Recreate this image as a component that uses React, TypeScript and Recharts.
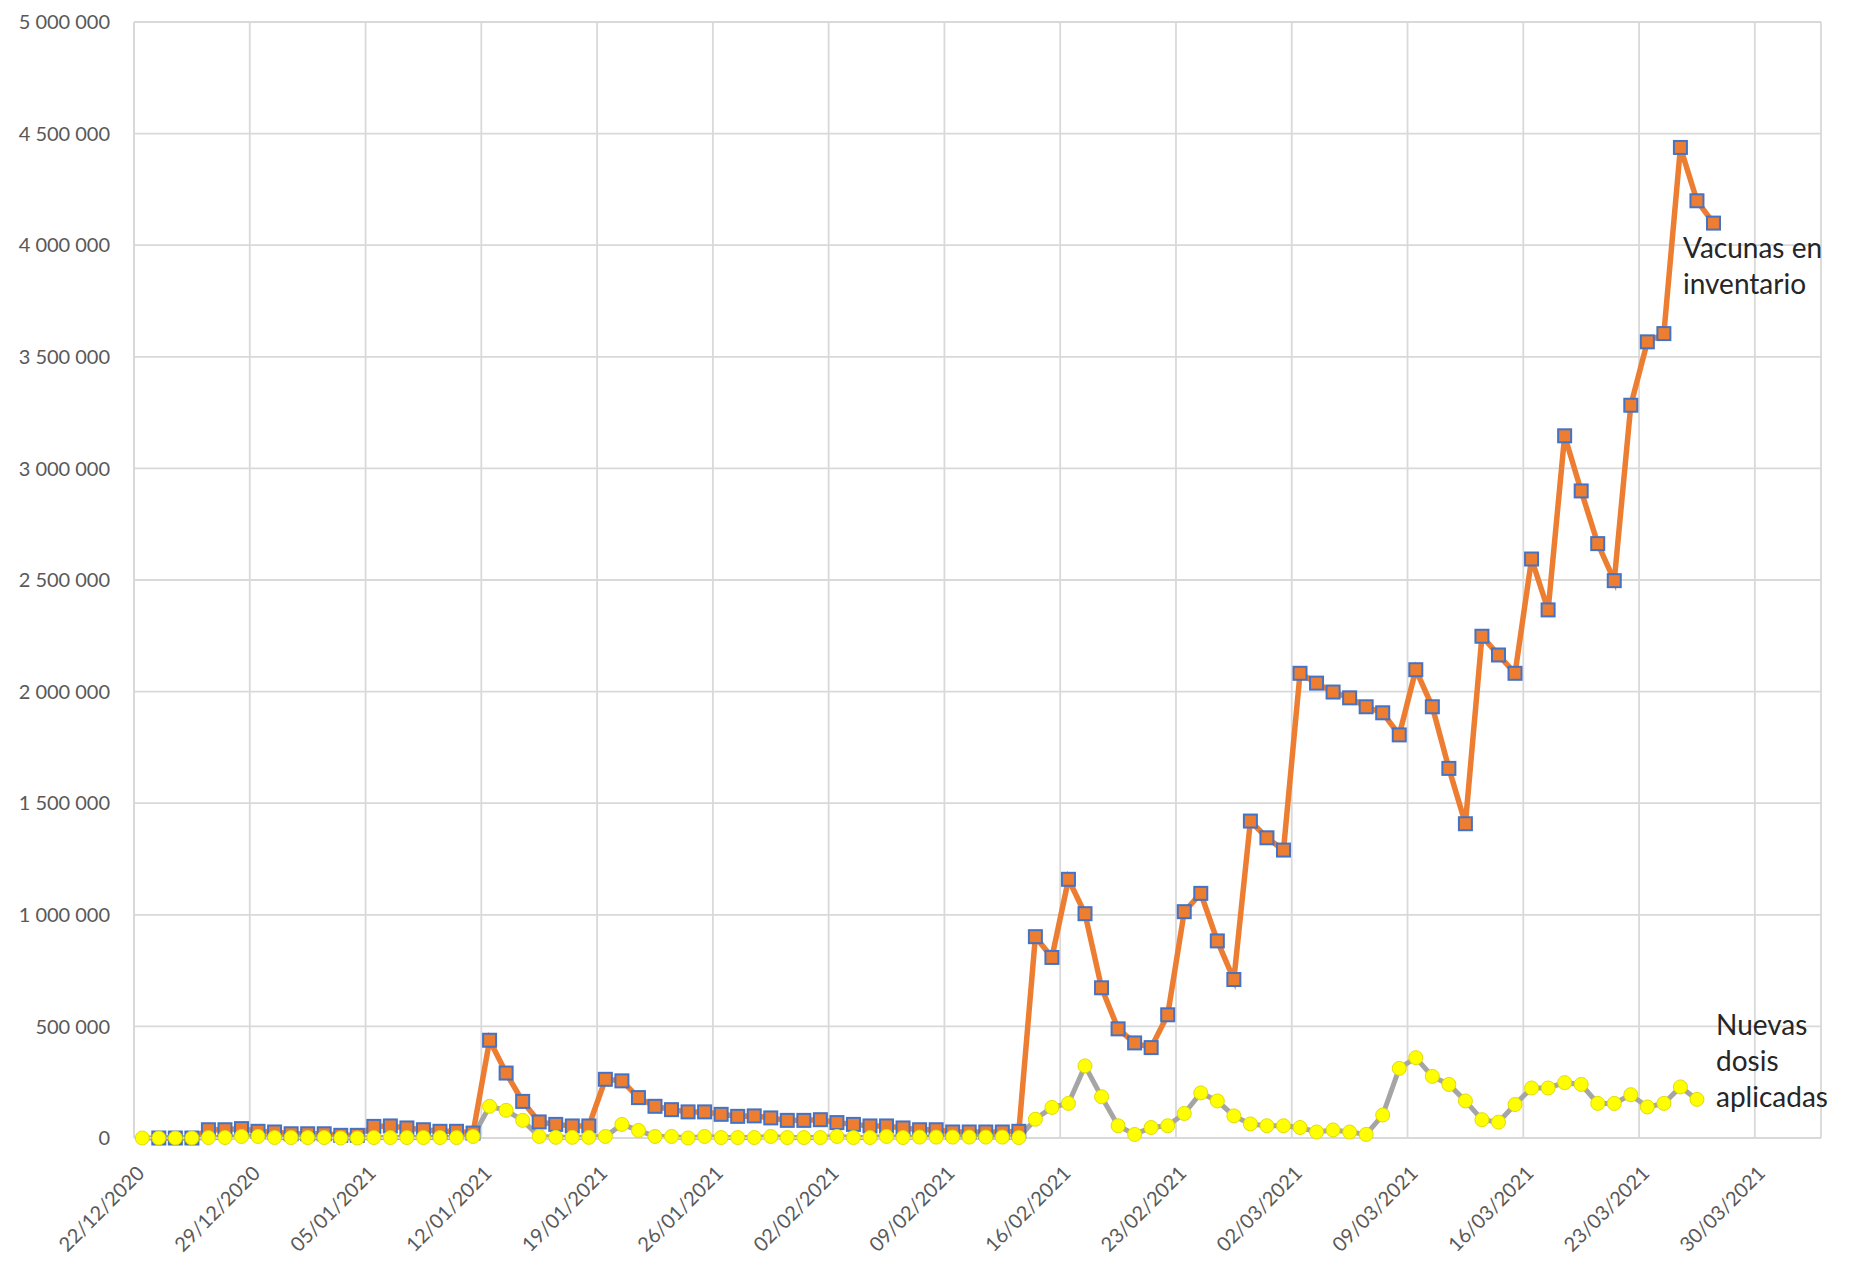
import React from 'react';
import { LineChart, Line, XAxis, YAxis, CartesianGrid } from 'recharts';

// Daily values from 22/12/2020 (index 0) onwards
const inventario = [
  null, 0, 0, 0, 37000, 37000, 42000, 30000, 27000, 19000,
  19000, 19000, 12000, 12000, 52000, 54000, 45000, 37000, 30000, 30000,
  22000, 438000, 291000, 164000, 72000, 61000, 54000, 54000, 263000, 256000,
  181000, 142000, 127000, 117000, 117000, 106000, 97000, 99000, 90000, 79000,
  79000, 82000, 69000, 61000, 54000, 54000, 45000, 37000, 37000, 27000,
  27000, 27000, 27000, 30000, 902000, 809000, 1159000, 1005000, 673000, 489000,
  426000, 405000, 552000, 1014000, 1096000, 883000, 710000, 1420000, 1345000, 1290000,
  2082000, 2038000, 1998000, 1972000, 1932000, 1905000, 1806000, 2098000, 1932000, 1656000,
  1408000, 2248000, 2164000, 2082000, 2594000, 2366000, 3146000, 2899000, 2663000, 2497000,
  3283000, 3567000, 3604000, 4438000, 4199000, 4099000,
];

const nuevasDosis = [
  0, 0, 0, 0, 2000, 2000, 7000, 7000, 2000, 2000,
  2000, 2000, 0, 0, 2000, 2000, 2000, 2000, 2000, 2000,
  7000, 142000, 124000, 79000, 7000, 3000, 3000, 3000, 7000, 61000,
  34000, 7000, 7000, 0, 7000, 2000, 2000, 2000, 7000, 2000,
  2000, 2000, 7000, 2000, 2000, 7000, 2000, 4000, 4000, 4000,
  4000, 4000, 4000, 2000, 84000, 137000, 155000, 323000, 185000, 55000,
  16000, 47000, 55000, 110000, 202000, 166000, 99000, 63000, 55000, 55000,
  47000, 27000, 36000, 27000, 16000, 103000, 312000, 360000, 276000, 240000,
  166000, 82000, 71000, 150000, 224000, 224000, 248000, 240000, 155000, 155000,
  194000, 139000, 155000, 229000, 173000,
];

const tickLabels = [
  '22/12/2020', '29/12/2020', '05/01/2021', '12/01/2021', '19/01/2021',
  '26/01/2021', '02/02/2021', '09/02/2021', '16/02/2021', '23/02/2021',
  '02/03/2021', '09/03/2021', '16/03/2021', '23/03/2021', '30/03/2021',
];

const yTicks = [0, 500000, 1000000, 1500000, 2000000, 2500000, 3000000, 3500000, 4000000, 4500000, 5000000];

const data = inventario.map((v, i) => ({
  dia: i,
  inventario: v,
  nuevas: i < nuevasDosis.length ? nuevasDosis[i] : null,
}));

// weekly ticks sit on day boundaries (points are centred in their day)
const xTicks = tickLabels.map((_, k) => k * 7 - 0.5);

const FONT = 'Lato, "Open Sans", sans-serif';

const formatMiles = (v: number) =>
  v.toString().replace(/\B(?=(\d{3})+(?!\d))/g, '\u202F');

const DateTick = ({ x, y, payload }: any) => {
  const k = Math.round((payload.value + 0.5) / 7);
  return (
    <text
      transform={`translate(${x + 6}, ${y + 31}) rotate(-45)`}
      textAnchor="end"
      dominantBaseline="central"
      fill="#595959"
      fontSize={20}
      fontFamily={FONT}
    >
      {tickLabels[k]}
    </text>
  );
};

const SquareDot = (props: any) => {
  const { cx, cy, index } = props;
  if (cx == null || cy == null || props.value == null) return <g key={`sq-${index}`} />;
  return (
    <rect
      key={`sq-${index}`}
      x={cx - 6.5}
      y={cy - 6.5}
      width={13}
      height={13}
      fill="#ED7D31"
      stroke="#4472C4"
      strokeWidth={2}
    />
  );
};

const CircleDot = (props: any) => {
  const { cx, cy, index } = props;
  if (cx == null || cy == null || props.value == null) return <g key={`ci-${index}`} />;
  return <circle key={`ci-${index}`} cx={cx} cy={cy} r={7} fill="#FFFF00" stroke="#E2DC00" strokeWidth={1} />;
};

export default function App() {
  return (
    <div style={{ position: 'absolute', left: 0, top: 0, width: 1858, height: 1272, background: '#fff' }}>
      <LineChart
        width={1858}
        height={1272}
        data={data}
        margin={{ top: 22, right: 37, bottom: 0, left: 0 }}
      >
        <CartesianGrid stroke="#D9D9D9" strokeWidth={1.8} />
        <XAxis
          dataKey="dia"
          type="number"
          domain={[-0.5, 101.5]}
          ticks={xTicks}
          interval={0}
          height={134}
          tickSize={0}
          tickMargin={0}
          axisLine={{ stroke: '#D9D9D9', strokeWidth: 1.8 }}
          tick={<DateTick />}
        />
        <YAxis
          domain={[0, 5000000]}
          ticks={yTicks}
          width={134}
          tickSize={0}
          tickMargin={24}
          axisLine={{ stroke: '#D9D9D9', strokeWidth: 1.8 }}
          tickFormatter={formatMiles}
          tick={{ fill: '#595959', fontSize: 20, fontFamily: FONT }}
        />
        <Line
          type="linear"
          dataKey="inventario"
          stroke="#ED7D31"
          strokeWidth={5.5}
          dot={(p: any) => <SquareDot {...p} key={`sq-${p.index}`} />}
          activeDot={false}
          isAnimationActive={false}
        />
        <Line
          type="linear"
          dataKey="nuevas"
          stroke="#A5A5A5"
          strokeWidth={5}
          dot={(p: any) => <CircleDot {...p} key={`ci-${p.index}`} />}
          activeDot={false}
          isAnimationActive={false}
        />
      </LineChart>
      <svg
        width={1858}
        height={1272}
        style={{ position: 'absolute', left: 0, top: 0, pointerEvents: 'none' }}
      >
        <g fill="#262626" fontSize={28} fontFamily={FONT}>
          <text x={1683} y={258}>Vacunas en</text>
          <text x={1683} y={294}>inventario</text>
          <text x={1716} y={1035}>Nuevas</text>
          <text x={1716} y={1071}>dosis</text>
          <text x={1716} y={1107}>aplicadas</text>
        </g>
      </svg>
    </div>
  );
}
